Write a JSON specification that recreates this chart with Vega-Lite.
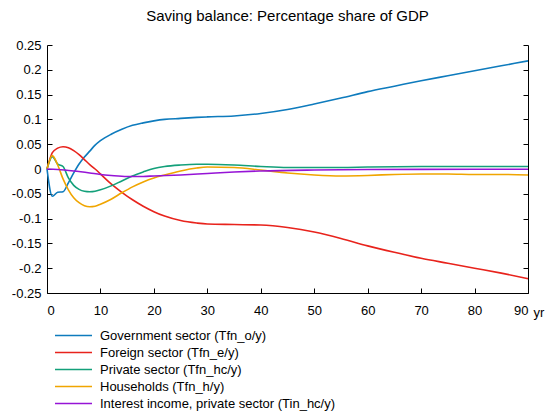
{
  "$schema": "https://vega.github.io/schema/vega-lite/v6.json",
  "autosize": "none",
  "width": 481,
  "height": 248,
  "padding": {"left": 47, "top": 45, "right": 17, "bottom": 123},
  "background": "white",
  "config": {
    "font": "Liberation Sans",
    "view": {"stroke": null},
    "axis": {"grid": false, "domainColor": "#000000", "tickColor": "#000000", "labelColor": "#000000", "labelFontSize": 13, "labelFont": "Liberation Sans", "domainWidth": 1, "labelOverlap": false}
  },
  "title": {"text": "Saving balance: Percentage share of GDP", "fontSize": 15, "fontWeight": "normal", "font": "Liberation Sans", "offset": 15, "color": "#000000"},
  "datasets": {
    "series": [
      {"t": 0, "s": "Government sector (Tfn_o/y)", "v": 0},
      {"t": 1, "s": "Government sector (Tfn_o/y)", "v": -0.055},
      {"t": 2, "s": "Government sector (Tfn_o/y)", "v": -0.047},
      {"t": 3, "s": "Government sector (Tfn_o/y)", "v": -0.046},
      {"t": 4, "s": "Government sector (Tfn_o/y)", "v": -0.028},
      {"t": 5, "s": "Government sector (Tfn_o/y)", "v": -0.008},
      {"t": 6, "s": "Government sector (Tfn_o/y)", "v": 0.01},
      {"t": 7, "s": "Government sector (Tfn_o/y)", "v": 0.024},
      {"t": 8, "s": "Government sector (Tfn_o/y)", "v": 0.036},
      {"t": 9, "s": "Government sector (Tfn_o/y)", "v": 0.048},
      {"t": 10, "s": "Government sector (Tfn_o/y)", "v": 0.057},
      {"t": 12, "s": "Government sector (Tfn_o/y)", "v": 0.07},
      {"t": 14, "s": "Government sector (Tfn_o/y)", "v": 0.08},
      {"t": 16, "s": "Government sector (Tfn_o/y)", "v": 0.088},
      {"t": 18, "s": "Government sector (Tfn_o/y)", "v": 0.093},
      {"t": 20, "s": "Government sector (Tfn_o/y)", "v": 0.097},
      {"t": 22, "s": "Government sector (Tfn_o/y)", "v": 0.1},
      {"t": 25, "s": "Government sector (Tfn_o/y)", "v": 0.102},
      {"t": 28, "s": "Government sector (Tfn_o/y)", "v": 0.104},
      {"t": 30, "s": "Government sector (Tfn_o/y)", "v": 0.105},
      {"t": 35, "s": "Government sector (Tfn_o/y)", "v": 0.107},
      {"t": 40, "s": "Government sector (Tfn_o/y)", "v": 0.112},
      {"t": 45, "s": "Government sector (Tfn_o/y)", "v": 0.12},
      {"t": 50, "s": "Government sector (Tfn_o/y)", "v": 0.131},
      {"t": 55, "s": "Government sector (Tfn_o/y)", "v": 0.143},
      {"t": 60, "s": "Government sector (Tfn_o/y)", "v": 0.156},
      {"t": 65, "s": "Government sector (Tfn_o/y)", "v": 0.167},
      {"t": 70, "s": "Government sector (Tfn_o/y)", "v": 0.178},
      {"t": 75, "s": "Government sector (Tfn_o/y)", "v": 0.188},
      {"t": 80, "s": "Government sector (Tfn_o/y)", "v": 0.198},
      {"t": 85, "s": "Government sector (Tfn_o/y)", "v": 0.208},
      {"t": 90, "s": "Government sector (Tfn_o/y)", "v": 0.218},

      {"t": 0, "s": "Foreign sector (Tfn_e/y)", "v": 0},
      {"t": 1, "s": "Foreign sector (Tfn_e/y)", "v": 0.033},
      {"t": 2, "s": "Foreign sector (Tfn_e/y)", "v": 0.042},
      {"t": 3, "s": "Foreign sector (Tfn_e/y)", "v": 0.045},
      {"t": 4, "s": "Foreign sector (Tfn_e/y)", "v": 0.043},
      {"t": 5, "s": "Foreign sector (Tfn_e/y)", "v": 0.037},
      {"t": 6, "s": "Foreign sector (Tfn_e/y)", "v": 0.029},
      {"t": 7, "s": "Foreign sector (Tfn_e/y)", "v": 0.019},
      {"t": 8, "s": "Foreign sector (Tfn_e/y)", "v": 0.009},
      {"t": 9, "s": "Foreign sector (Tfn_e/y)", "v": 0.0},
      {"t": 10, "s": "Foreign sector (Tfn_e/y)", "v": -0.01},
      {"t": 12, "s": "Foreign sector (Tfn_e/y)", "v": -0.03},
      {"t": 14, "s": "Foreign sector (Tfn_e/y)", "v": -0.047},
      {"t": 16, "s": "Foreign sector (Tfn_e/y)", "v": -0.062},
      {"t": 18, "s": "Foreign sector (Tfn_e/y)", "v": -0.075},
      {"t": 20, "s": "Foreign sector (Tfn_e/y)", "v": -0.086},
      {"t": 22, "s": "Foreign sector (Tfn_e/y)", "v": -0.095},
      {"t": 25, "s": "Foreign sector (Tfn_e/y)", "v": -0.104},
      {"t": 28, "s": "Foreign sector (Tfn_e/y)", "v": -0.109},
      {"t": 30, "s": "Foreign sector (Tfn_e/y)", "v": -0.111},
      {"t": 35, "s": "Foreign sector (Tfn_e/y)", "v": -0.112},
      {"t": 40, "s": "Foreign sector (Tfn_e/y)", "v": -0.113},
      {"t": 45, "s": "Foreign sector (Tfn_e/y)", "v": -0.118},
      {"t": 50, "s": "Foreign sector (Tfn_e/y)", "v": -0.127},
      {"t": 55, "s": "Foreign sector (Tfn_e/y)", "v": -0.14},
      {"t": 60, "s": "Foreign sector (Tfn_e/y)", "v": -0.155},
      {"t": 65, "s": "Foreign sector (Tfn_e/y)", "v": -0.168},
      {"t": 70, "s": "Foreign sector (Tfn_e/y)", "v": -0.18},
      {"t": 75, "s": "Foreign sector (Tfn_e/y)", "v": -0.19},
      {"t": 80, "s": "Foreign sector (Tfn_e/y)", "v": -0.2},
      {"t": 85, "s": "Foreign sector (Tfn_e/y)", "v": -0.21},
      {"t": 90, "s": "Foreign sector (Tfn_e/y)", "v": -0.221},

      {"t": 0, "s": "Private sector (Tfn_hc/y)", "v": 0},
      {"t": 1, "s": "Private sector (Tfn_hc/y)", "v": 0.025},
      {"t": 2, "s": "Private sector (Tfn_hc/y)", "v": 0.01},
      {"t": 3, "s": "Private sector (Tfn_hc/y)", "v": 0.005},
      {"t": 4, "s": "Private sector (Tfn_hc/y)", "v": -0.018},
      {"t": 5, "s": "Private sector (Tfn_hc/y)", "v": -0.033},
      {"t": 6, "s": "Private sector (Tfn_hc/y)", "v": -0.041},
      {"t": 7, "s": "Private sector (Tfn_hc/y)", "v": -0.045},
      {"t": 8, "s": "Private sector (Tfn_hc/y)", "v": -0.046},
      {"t": 9, "s": "Private sector (Tfn_hc/y)", "v": -0.045},
      {"t": 10, "s": "Private sector (Tfn_hc/y)", "v": -0.042},
      {"t": 12, "s": "Private sector (Tfn_hc/y)", "v": -0.034},
      {"t": 14, "s": "Private sector (Tfn_hc/y)", "v": -0.024},
      {"t": 16, "s": "Private sector (Tfn_hc/y)", "v": -0.014},
      {"t": 18, "s": "Private sector (Tfn_hc/y)", "v": -0.006},
      {"t": 20, "s": "Private sector (Tfn_hc/y)", "v": 0.001},
      {"t": 22, "s": "Private sector (Tfn_hc/y)", "v": 0.005},
      {"t": 25, "s": "Private sector (Tfn_hc/y)", "v": 0.008},
      {"t": 28, "s": "Private sector (Tfn_hc/y)", "v": 0.0095},
      {"t": 30, "s": "Private sector (Tfn_hc/y)", "v": 0.0095},
      {"t": 35, "s": "Private sector (Tfn_hc/y)", "v": 0.008},
      {"t": 40, "s": "Private sector (Tfn_hc/y)", "v": 0.005},
      {"t": 45, "s": "Private sector (Tfn_hc/y)", "v": 0.003},
      {"t": 50, "s": "Private sector (Tfn_hc/y)", "v": 0.003},
      {"t": 55, "s": "Private sector (Tfn_hc/y)", "v": 0.003},
      {"t": 60, "s": "Private sector (Tfn_hc/y)", "v": 0.004},
      {"t": 70, "s": "Private sector (Tfn_hc/y)", "v": 0.005},
      {"t": 80, "s": "Private sector (Tfn_hc/y)", "v": 0.005},
      {"t": 90, "s": "Private sector (Tfn_hc/y)", "v": 0.005},

      {"t": 0, "s": "Households (Tfn_h/y)", "v": 0},
      {"t": 1, "s": "Households (Tfn_h/y)", "v": 0.027},
      {"t": 2, "s": "Households (Tfn_h/y)", "v": 0.008},
      {"t": 3, "s": "Households (Tfn_h/y)", "v": -0.02},
      {"t": 4, "s": "Households (Tfn_h/y)", "v": -0.042},
      {"t": 5, "s": "Households (Tfn_h/y)", "v": -0.058},
      {"t": 6, "s": "Households (Tfn_h/y)", "v": -0.068},
      {"t": 7, "s": "Households (Tfn_h/y)", "v": -0.074},
      {"t": 8, "s": "Households (Tfn_h/y)", "v": -0.076},
      {"t": 9, "s": "Households (Tfn_h/y)", "v": -0.075},
      {"t": 10, "s": "Households (Tfn_h/y)", "v": -0.071},
      {"t": 12, "s": "Households (Tfn_h/y)", "v": -0.061},
      {"t": 14, "s": "Households (Tfn_h/y)", "v": -0.048},
      {"t": 16, "s": "Households (Tfn_h/y)", "v": -0.036},
      {"t": 18, "s": "Households (Tfn_h/y)", "v": -0.026},
      {"t": 20, "s": "Households (Tfn_h/y)", "v": -0.018},
      {"t": 22, "s": "Households (Tfn_h/y)", "v": -0.012},
      {"t": 25, "s": "Households (Tfn_h/y)", "v": -0.004},
      {"t": 28, "s": "Households (Tfn_h/y)", "v": 0.002},
      {"t": 30, "s": "Households (Tfn_h/y)", "v": 0.004},
      {"t": 35, "s": "Households (Tfn_h/y)", "v": 0.003},
      {"t": 40, "s": "Households (Tfn_h/y)", "v": -0.002},
      {"t": 45, "s": "Households (Tfn_h/y)", "v": -0.008},
      {"t": 50, "s": "Households (Tfn_h/y)", "v": -0.012},
      {"t": 55, "s": "Households (Tfn_h/y)", "v": -0.014},
      {"t": 60, "s": "Households (Tfn_h/y)", "v": -0.013},
      {"t": 65, "s": "Households (Tfn_h/y)", "v": -0.011},
      {"t": 70, "s": "Households (Tfn_h/y)", "v": -0.01},
      {"t": 75, "s": "Households (Tfn_h/y)", "v": -0.01},
      {"t": 80, "s": "Households (Tfn_h/y)", "v": -0.011},
      {"t": 85, "s": "Households (Tfn_h/y)", "v": -0.011},
      {"t": 90, "s": "Households (Tfn_h/y)", "v": -0.012},

      {"t": 0, "s": "Interest income, private sector (Tin_hc/y)", "v": 0},
      {"t": 2, "s": "Interest income, private sector (Tin_hc/y)", "v": -0.001},
      {"t": 5, "s": "Interest income, private sector (Tin_hc/y)", "v": -0.004},
      {"t": 8, "s": "Interest income, private sector (Tin_hc/y)", "v": -0.008},
      {"t": 10, "s": "Interest income, private sector (Tin_hc/y)", "v": -0.011},
      {"t": 12, "s": "Interest income, private sector (Tin_hc/y)", "v": -0.013},
      {"t": 15, "s": "Interest income, private sector (Tin_hc/y)", "v": -0.015},
      {"t": 18, "s": "Interest income, private sector (Tin_hc/y)", "v": -0.015},
      {"t": 20, "s": "Interest income, private sector (Tin_hc/y)", "v": -0.014},
      {"t": 25, "s": "Interest income, private sector (Tin_hc/y)", "v": -0.012},
      {"t": 30, "s": "Interest income, private sector (Tin_hc/y)", "v": -0.009},
      {"t": 35, "s": "Interest income, private sector (Tin_hc/y)", "v": -0.006},
      {"t": 40, "s": "Interest income, private sector (Tin_hc/y)", "v": -0.004},
      {"t": 50, "s": "Interest income, private sector (Tin_hc/y)", "v": -0.002},
      {"t": 60, "s": "Interest income, private sector (Tin_hc/y)", "v": -0.001},
      {"t": 70, "s": "Interest income, private sector (Tin_hc/y)", "v": -0.0007},
      {"t": 80, "s": "Interest income, private sector (Tin_hc/y)", "v": -0.0005},
      {"t": 90, "s": "Interest income, private sector (Tin_hc/y)", "v": -0.0004}
    ]
  },
  "layer": [
    {
      "data": {"name": "series"},
      "mark": {"type": "line", "strokeWidth": 1.6, "interpolate": "monotone"},
      "encoding": {
        "x": {"field": "t", "type": "quantitative",
          "scale": {"domain": [0, 90], "nice": false},
          "axis": {"values": [0,10,20,30,40,50,60,70,80,90], "tickSize": -5, "labelPadding": 16, "title": "yr", "titleFontWeight": "normal", "titleFontSize": 13, "titleX": 486, "titleY": 13, "titleAlign": "left", "titleBaseline": "top", "titleColor": "#000000"}},
        "y": {"field": "v", "type": "quantitative",
          "scale": {"domain": [-0.25, 0.25], "nice": false, "zero": false},
          "axis": {"orient": "left", "values": [-0.25,-0.2,-0.15,-0.1,-0.05,0,0.05,0.1,0.15,0.2,0.25], "format": "~g", "labelExpr": "replace(datum.label, '\u2212', '-')", "tickSize": -5, "labelPadding": 11, "title": null}},
        "color": {"field": "s", "type": "nominal",
          "sort": ["Government sector (Tfn_o/y)", "Foreign sector (Tfn_e/y)", "Private sector (Tfn_hc/y)", "Households (Tfn_h/y)", "Interest income, private sector (Tin_hc/y)"],
          "scale": {"domain": ["Government sector (Tfn_o/y)", "Foreign sector (Tfn_e/y)", "Private sector (Tfn_hc/y)", "Households (Tfn_h/y)", "Interest income, private sector (Tin_hc/y)"],
                    "range": ["#0E7BBD", "#E8231C", "#13A07A", "#F0A500", "#9614D6"]},
          "legend": {"title": null, "orient": "none", "legendX": 7, "legendY": 284, "symbolType": "stroke", "symbolSize": 1369, "symbolStrokeWidth": 1.6, "labelFontSize": 13, "labelFont": "Liberation Sans", "labelColor": "#000000", "labelOffset": 7, "labelLimit": 0, "rowPadding": 3, "clipHeight": 13}
        }
      }
    },
    {
      "mark": {"type": "rule", "color": "#000000", "strokeWidth": 1},
      "encoding": {"y": {"datum": 0, "axis": null}}
    },
    {
      "data": {"name": "series"},
      "mark": {"type": "line", "opacity": 0},
      "encoding": {
        "x": {"field": "t", "type": "quantitative"},
        "y": {"field": "v", "type": "quantitative",
          "axis": {"orient": "right", "values": [-0.25,-0.2,-0.15,-0.1,-0.05,0,0.05,0.1,0.15,0.2,0.25], "labels": false, "tickSize": -5, "title": null}}
      }
    }
  ],
  "resolve": {"axis": {"y": "independent"}}
}
